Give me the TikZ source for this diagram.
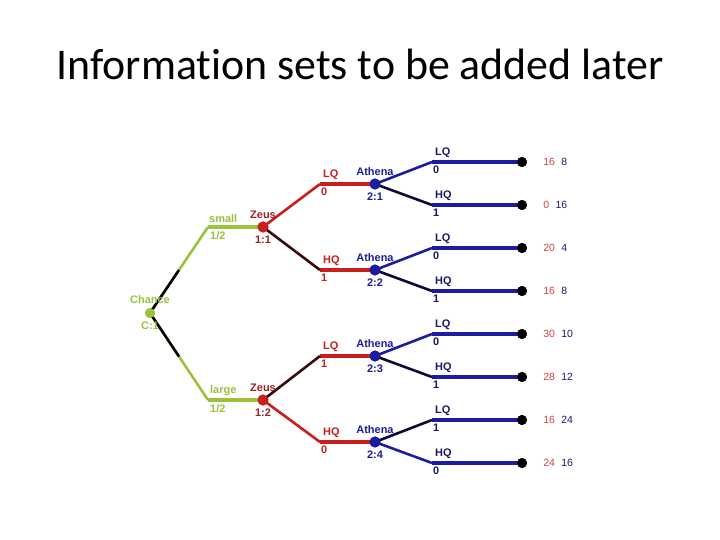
\documentclass[tikz,border=0pt]{standalone}
\usepackage{fontspec}
\setmainfont{Carlito}[Ligatures=NoCommon]
\newfontfamily\treefont{Liberation Sans}
\usetikzlibrary{calc,positioning}
\definecolor{chancegreen}{HTML}{9AC23C}
\definecolor{zeusred}{HTML}{C81E1E}
\definecolor{zeuslabel}{HTML}{9B2226}
\definecolor{payred}{HTML}{C84444}
\definecolor{athenablue}{HTML}{1C1CA0}
\definecolor{athenalabel}{HTML}{1A1A66}
\definecolor{darkred}{HTML}{3A0A0A}
\definecolor{darkblue}{HTML}{0A0A33}
\tikzset{
  hline/.style={line width=3.8pt},
  dline/.style={line width=2.6pt},
  vertex/.style={circle,inner sep=0pt,minimum size=11pt},
  leaf/.style={circle,fill=black,inner sep=0pt,minimum size=10pt},
  lab/.style={font=\treefont\bfseries\fontsize{11}{11}\selectfont,inner sep=1pt},
  pay/.style={font=\treefont\fontsize{10.5}{10.5}\selectfont,inner sep=1pt}
}
\begin{document}
\begin{tikzpicture}[x=1bp,y=-1bp]
\useasboundingbox[fill=white] (0,0) rectangle (720,540);
\node[font=\fontsize{44}{44}\selectfont,anchor=base] (title) at (360,80) {Information sets to be added later};
% vertices and bends
\node[vertex,fill=chancegreen,minimum size=10pt] (ch) at (150,313) {};
\coordinate (ks) at (208,227);
\coordinate (kl) at (208,400);
\node[vertex,fill=zeusred] (z1) at (263,227) {};
\node[vertex,fill=zeusred] (z2) at (263,400) {};
\coordinate (k1) at (320,184);
\coordinate (k2) at (320,270);
\coordinate (k3) at (320,356);
\coordinate (k4) at (320,442);
\node[vertex,fill=athenablue] (a1) at (375,184) {};
\node[vertex,fill=athenablue] (a2) at (375,270) {};
\node[vertex,fill=athenablue] (a3) at (375,356) {};
\node[vertex,fill=athenablue] (a4) at (375,442) {};
\coordinate (b1) at (432,162); \node[leaf] (t1) at (522,162) {};
\coordinate (b2) at (432,205); \node[leaf] (t2) at (522,205) {};
\coordinate (b3) at (432,248); \node[leaf] (t3) at (522,248) {};
\coordinate (b4) at (432,291); \node[leaf] (t4) at (522,291) {};
\coordinate (b5) at (432,334); \node[leaf] (t5) at (522,334) {};
\coordinate (b6) at (432,377); \node[leaf] (t6) at (522,377) {};
\coordinate (b7) at (432,420); \node[leaf] (t7) at (522,420) {};
\coordinate (b8) at (432,463); \node[leaf] (t8) at (522,463) {};
% chance branches
\draw[hline,chancegreen] (ks) -- (z1.center);
\draw[hline,chancegreen] (kl) -- (z2.center);
\draw[dline,chancegreen] (ch.center) -- (ks);
\draw[dline,chancegreen] (ch.center) -- (kl);
\draw[dline,black] (ch.center) -- ($(ch.center)!0.5!(ks)$);
\draw[dline,black] (ch.center) -- ($(ch.center)!0.5!(kl)$);
% Zeus branches
\draw[hline,zeusred] (k1) -- (a1.center);
\draw[hline,zeusred] (k2) -- (a2.center);
\draw[hline,zeusred] (k3) -- (a3.center);
\draw[hline,zeusred] (k4) -- (a4.center);
\draw[dline,zeusred] (z1.center) -- (k1);
\draw[dline,darkred] (z1.center) -- (k2);
\draw[dline,darkred] (z2.center) -- (k3);
\draw[dline,zeusred] (z2.center) -- (k4);
% Athena branches
\draw[hline,athenablue] (b1) -- (t1.center);
\draw[hline,athenablue] (b2) -- (t2.center);
\draw[hline,athenablue] (b3) -- (t3.center);
\draw[hline,athenablue] (b4) -- (t4.center);
\draw[hline,athenablue] (b5) -- (t5.center);
\draw[hline,athenablue] (b6) -- (t6.center);
\draw[hline,athenablue] (b7) -- (t7.center);
\draw[hline,athenablue] (b8) -- (t8.center);
\draw[dline,athenablue] (a1.center) -- (b1);
\draw[dline,darkblue] (a1.center) -- (b2);
\draw[dline,athenablue] (a2.center) -- (b3);
\draw[dline,darkblue] (a2.center) -- (b4);
\draw[dline,athenablue] (a3.center) -- (b5);
\draw[dline,darkblue] (a3.center) -- (b6);
\draw[dline,darkblue] (a4.center) -- (b7);
\draw[dline,athenablue] (a4.center) -- (b8);
% dots on top
\node[vertex,fill=chancegreen,minimum size=10pt] at (ch) {};
\node[vertex,fill=zeusred] at (z1) {};
\node[vertex,fill=zeusred] at (z2) {};
\foreach \a in {a1,a2,a3,a4} \node[vertex,fill=athenablue] at (\a) {};
\foreach \t in {t1,t2,t3,t4,t5,t6,t7,t8} \node[leaf] at (\t) {};
% player labels
\node[lab,chancegreen,above=3pt of ch] {Chance};
\node[lab,chancegreen,below=2pt of ch] {C:1};
\node[lab,zeuslabel,above=2pt of z1] {Zeus};
\node[lab,zeuslabel,below=2pt of z1] {1:1};
\node[lab,zeuslabel,above=2pt of z2] {Zeus};
\node[lab,zeuslabel,below=2pt of z2] {1:2};
\node[lab,athenablue,above=2pt of a1] {Athena};
\node[lab,athenablue,below=2pt of a1] {2:1};
\node[lab,athenablue,above=2pt of a2] {Athena};
\node[lab,athenablue,below=2pt of a2] {2:2};
\node[lab,athenablue,above=2pt of a3] {Athena};
\node[lab,athenablue,below=2pt of a3] {2:3};
\node[lab,athenablue,above=2pt of a4] {Athena};
\node[lab,athenablue,below=2pt of a4] {2:4};
% action labels
\node[lab,chancegreen,anchor=south west] at ($(ks)+(0,-3)$) {small};
\node[lab,chancegreen,anchor=north west] at ($(ks)+(1,3)$) {1/2};
\node[lab,chancegreen,anchor=south west] at ($(kl)+(1,-3)$) {large};
\node[lab,chancegreen,anchor=north west] at ($(kl)+(1,3)$) {1/2};
\node[lab,zeusred,anchor=south west] at ($(k1)+(2,-3)$) {LQ};
\node[lab,zeusred,anchor=north west] at ($(k1)+(0,3)$) {0};
\node[lab,zeusred,anchor=south west] at ($(k2)+(2,-3)$) {HQ};
\node[lab,zeusred,anchor=north west] at ($(k2)+(0,3)$) {1};
\node[lab,zeusred,anchor=south west] at ($(k3)+(2,-3)$) {LQ};
\node[lab,zeusred,anchor=north west] at ($(k3)+(0,3)$) {1};
\node[lab,zeusred,anchor=south west] at ($(k4)+(2,-3)$) {HQ};
\node[lab,zeusred,anchor=north west] at ($(k4)+(0,3)$) {0};
\node[lab,athenalabel,anchor=south west] at ($(b1)+(2,-3)$) {LQ};
\node[lab,athenalabel,anchor=north west] at ($(b1)+(0,3)$) {0};
\node[lab,athenalabel,anchor=south west] at ($(b2)+(2,-3)$) {HQ};
\node[lab,athenalabel,anchor=north west] at ($(b2)+(0,3)$) {1};
\node[lab,athenalabel,anchor=south west] at ($(b3)+(2,-3)$) {LQ};
\node[lab,athenalabel,anchor=north west] at ($(b3)+(0,3)$) {0};
\node[lab,athenalabel,anchor=south west] at ($(b4)+(2,-3)$) {HQ};
\node[lab,athenalabel,anchor=north west] at ($(b4)+(0,3)$) {1};
\node[lab,athenalabel,anchor=south west] at ($(b5)+(2,-3)$) {LQ};
\node[lab,athenalabel,anchor=north west] at ($(b5)+(0,3)$) {0};
\node[lab,athenalabel,anchor=south west] at ($(b6)+(2,-3)$) {HQ};
\node[lab,athenalabel,anchor=north west] at ($(b6)+(0,3)$) {1};
\node[lab,athenalabel,anchor=south west] at ($(b7)+(2,-3)$) {LQ};
\node[lab,athenalabel,anchor=north west] at ($(b7)+(0,3)$) {1};
\node[lab,athenalabel,anchor=south west] at ($(b8)+(2,-3)$) {HQ};
\node[lab,athenalabel,anchor=north west] at ($(b8)+(0,3)$) {0};
% payoffs
\node[pay,payred,right=15pt of t1] (p1) {16}; \node[pay,athenalabel,right=4pt of p1] {8};
\node[pay,payred,right=15pt of t2] (p2) {0};  \node[pay,athenalabel,right=4pt of p2] {16};
\node[pay,payred,right=15pt of t3] (p3) {20}; \node[pay,athenalabel,right=4pt of p3] {4};
\node[pay,payred,right=15pt of t4] (p4) {16}; \node[pay,athenalabel,right=4pt of p4] {8};
\node[pay,payred,right=15pt of t5] (p5) {30}; \node[pay,athenalabel,right=4pt of p5] {10};
\node[pay,payred,right=15pt of t6] (p6) {28}; \node[pay,athenalabel,right=4pt of p6] {12};
\node[pay,payred,right=15pt of t7] (p7) {16}; \node[pay,athenalabel,right=4pt of p7] {24};
\node[pay,payred,right=15pt of t8] (p8) {24}; \node[pay,athenalabel,right=4pt of p8] {16};
\end{tikzpicture}
\end{document}
